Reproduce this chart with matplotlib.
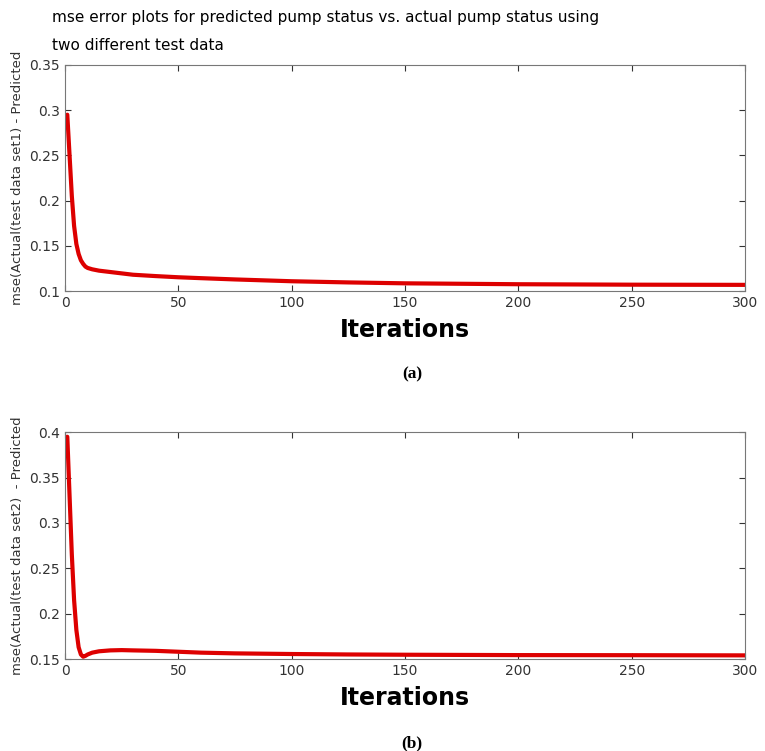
import matplotlib.pyplot as plt

# data
iter_a = [1, 2, 3, 4, 5, 6, 7, 8, 9, 10, 12, 15, 20, 25, 30, 40, 50, 60, 75, 100, 125, 150, 175, 200, 250, 300]
mse_a = [0.295, 0.25, 0.205, 0.172, 0.152, 0.141, 0.134, 0.130, 0.127, 0.1255, 0.124, 0.1225, 0.121, 0.1195, 0.118, 0.1165, 0.1152, 0.1142, 0.1128, 0.1108, 0.1095, 0.1085, 0.108, 0.1075, 0.107, 0.1068]

iter_b = [1, 2, 3, 4, 5, 6, 7, 8, 9, 10, 12, 15, 20, 25, 30, 40, 50, 60, 75, 100, 125, 150, 200, 250, 300]
mse_b = [0.395, 0.33, 0.265, 0.215, 0.182, 0.163, 0.155, 0.1525, 0.1535, 0.155, 0.157, 0.1585, 0.1595, 0.1598, 0.1595, 0.159, 0.158, 0.157, 0.1562, 0.1555, 0.155, 0.1547, 0.1543, 0.1542, 0.154]

yticks_a = [0.1, 0.15, 0.2, 0.25, 0.3, 0.35]
yticks_b = [0.15, 0.2, 0.25, 0.3, 0.35, 0.4]
xticks = [0, 50, 100, 150, 200, 250, 300]

fig = plt.figure(figsize=(7.65, 7.51), dpi=100)

ax1 = fig.add_axes([0.085, 0.6125, 0.889, 0.301])
ax2 = fig.add_axes([0.085, 0.1225, 0.889, 0.302])

panels = [
    (ax1, iter_a, mse_a, yticks_a, 'mse(Actual(test data set1) - Predicted', '(a)'),
    (ax2, iter_b, mse_b, yticks_b, 'mse(Actual(test data set2)  - Predicted', '(b)'),
]

for ax, x, y, yt, ylab, tag in panels:
    ax.plot(x, y, color='#dd0000', linewidth=3, solid_capstyle='round')
    ax.set_xlim(0, 300)
    ax.set_ylim(yt[0], yt[-1])
    ax.set_xticks(xticks)
    ax.set_yticks(yt)
    ax.set_yticklabels([('%g' % v) for v in yt])
    ax.tick_params(direction='in', top=True, right=True, labelsize=10,
                   colors='#333333', length=4)
    for s in ax.spines.values():
        s.set_color('#777777')
    ax.set_xlabel('Iterations', fontsize=17, fontweight='bold', labelpad=6)
    ax.set_ylabel(ylab, fontsize=9.5, labelpad=4, color='#333333')
    ax.text(0.51, -0.37, tag, transform=ax.transAxes, ha='center', va='center',
            fontsize=12.5, fontweight='bold', family='Liberation Serif')

fig.text(0.068, 0.977, 'mse error plots for predicted pump status vs. actual pump status using',
         fontsize=11, ha='left', va='center')
fig.text(0.068, 0.94, 'two different test data', fontsize=11, ha='left', va='center')

fig.savefig('out.png', dpi=100)
